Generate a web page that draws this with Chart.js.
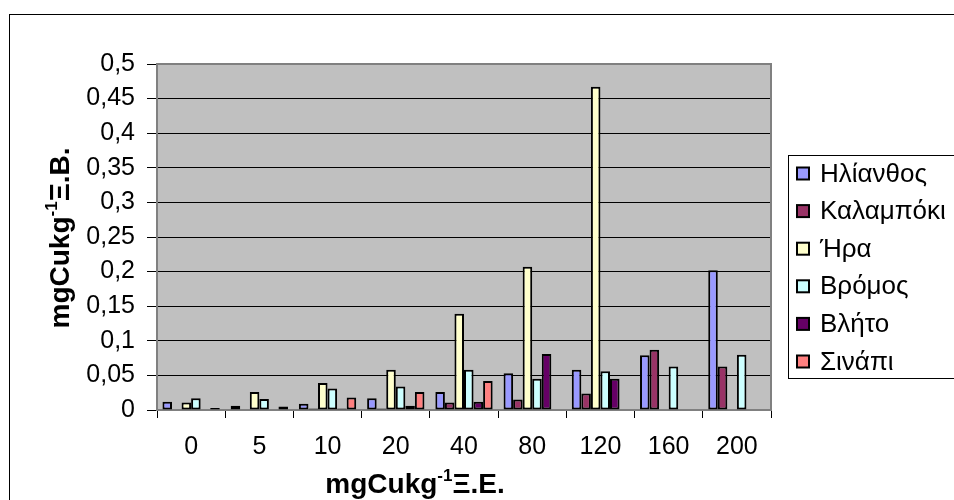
<!DOCTYPE html>
<html>
<head>
<meta charset="utf-8">
<script src="https://cdn.jsdelivr.net/npm/chart.js@4"></script>
<style>
  html, body { margin: 0; padding: 0; background: #fff; }
  #wrap { width: 954px; height: 500px; position: relative; }
</style>
</head>
<body>
<div id="wrap"><canvas id="cuChart"></canvas></div>
<script>
// categories (mg Cu / kg soil)
const categories = ['0', '5', '10', '20', '40', '80', '120', '160', '200'];

// series values
const ilianthos  = [0.012, 0.006, 0.009, 0.017, 0.026, 0.053, 0.058, 0.079, 0.202];
const kalampoki  = [0,     0,     0.002, 0.002, 0.011, 0.015, 0.024, 0.087, 0.063];
const ira        = [0.011, 0.026, 0.039, 0.058, 0.139, 0.207, 0.467, 0,     0];
const vromos     = [0.017, 0.016, 0.031, 0.034, 0.058, 0.045, 0.056, 0.063, 0.080];
const vlito      = [0,     0,     0.002, 0.006, 0.012, 0.081, 0.045, 0,     0];
const sinapi     = [0.003, 0.005, 0.018, 0.026, 0.042, 0,     0,     0,     0];

const seriesNames = ['Ηλίανθος', 'Καλαμπόκι', 'Ήρα', 'Βρόμος', 'Βλήτο', 'Σινάπι'];
const seriesColors = ['#9999FF', '#993366', '#FFFFCC', '#CCFFFF', '#660066', '#FF8080'];

// y axis tick labels (greek decimal comma)
const yTickLabels = ['0', '0,05', '0,1', '0,15', '0,2', '0,25', '0,3', '0,35', '0,4', '0,45', '0,5'];

const FONT = '"Liberation Sans", Arial, sans-serif';

const allSeries = [ilianthos, kalampoki, ira, vromos, vlito, sinapi];
const datasets = allSeries.map((vals, i) => ({
    label: seriesNames[i],
    data: vals,
    backgroundColor: seriesColors[i],
    borderColor: '#000',
    borderWidth: 2,
    borderSkipped: false,
    barPercentage: 1,
    categoryPercentage: 0.84
}));

// grey plot background + grey frame round it
const plotFrame = {
    id: 'plotFrame',
    beforeDraw(chart) {
        const { ctx, chartArea: a } = chart;
        ctx.save();
        ctx.fillStyle = '#C0C0C0';
        ctx.fillRect(a.left, a.top, a.right - a.left, a.bottom - a.top);
        // outer chart border (left and top visible only)
        ctx.strokeStyle = '#000';
        ctx.lineWidth = 1;
        ctx.strokeRect(9.5, 14.5, 1000, 600);
        ctx.restore();
    },
    beforeDatasetsDraw(chart) {
        const { ctx, chartArea: a } = chart;
        ctx.save();
        ctx.strokeStyle = '#808080';
        ctx.lineWidth = 2;
        ctx.strokeRect(a.left, a.top, a.right - a.left, a.bottom - a.top);
        ctx.restore();
    }
};

// axis titles with the superscript -1
function drawSupText(ctx, parts, cx, y) {
    const big = 'bold 28px ' + FONT;
    const small = 'bold 17px ' + FONT;
    let total = 0;
    parts.forEach(p => {
        ctx.font = p.sup ? small : big;
        total += ctx.measureText(p.t).width;
    });
    let x = cx - total / 2;
    parts.forEach(p => {
        ctx.font = p.sup ? small : big;
        ctx.fillText(p.t, x, p.sup ? y - 12 : y);
        x += ctx.measureText(p.t).width;
    });
}

const axisTitles = {
    id: 'axisTitles',
    afterDraw(chart) {
        const { ctx } = chart;
        ctx.save();
        ctx.fillStyle = '#000';
        ctx.textBaseline = 'alphabetic';
        ctx.textAlign = 'left';
        drawSupText(ctx, [{ t: 'mgCukg' }, { t: '-1', sup: true }, { t: 'Ξ.Ε.' }], 415, 493);
        ctx.translate(69, 238);
        ctx.rotate(-Math.PI / 2);
        drawSupText(ctx, [{ t: 'mgCukg' }, { t: '-1', sup: true }, { t: 'Ξ.Β.' }], 0, 0);
        ctx.restore();
    }
};

// boxed legend on the right
const boxLegend = {
    id: 'boxLegend',
    afterDraw(chart) {
        const { ctx } = chart;
        ctx.save();
        ctx.strokeStyle = '#000';
        ctx.lineWidth = 1;
        ctx.strokeRect(788.5, 155.5, 300, 223);
        ctx.font = '26px ' + FONT;
        ctx.textBaseline = 'middle';
        ctx.textAlign = 'left';
        chart.data.datasets.forEach((ds, i) => {
            const cy = 173.5 + i * 37.6;
            ctx.fillStyle = ds.backgroundColor;
            ctx.fillRect(797, cy - 6, 12, 12);
            ctx.lineWidth = 2;
            ctx.strokeStyle = '#000';
            ctx.strokeRect(797, cy - 6, 12, 12);
            ctx.fillStyle = '#000';
            ctx.fillText(ds.label, 820, cy + 1);
        });
        ctx.restore();
    }
};

const ctx = document.getElementById('cuChart').getContext('2d');
const cuChart = new Chart(ctx, {
    type: 'bar',
    data: { labels: categories, datasets: datasets },
    options: {
        responsive: true,
        maintainAspectRatio: false,
        animation: false,
        layout: { padding: { left: 10, top: 64, right: 183, bottom: 0 } },
        scales: {
            x: {
                offset: true,
                grid: { display: true, drawOnChartArea: false, tickLength: 8, color: '#000' },
                border: { display: false },
                ticks: { color: '#000', padding: 14, font: { family: FONT, size: 25 } },
                afterFit: s => { s.height = 90; }
            },
            y: {
                min: 0,
                max: 0.5,
                grid: { color: '#000', tickLength: 10 },
                border: { display: false },
                ticks: {
                    stepSize: 0.05,
                    color: '#000',
                    padding: 12,
                    font: { family: FONT, size: 25 },
                    callback: (v, i) => yTickLabels[i]
                },
                afterFit: s => { s.width = 147; }
            }
        },
        plugins: {
            legend: { display: false },
            tooltip: { enabled: false }
        }
    },
    plugins: [plotFrame, axisTitles, boxLegend]
});
</script>
</body>
</html>
